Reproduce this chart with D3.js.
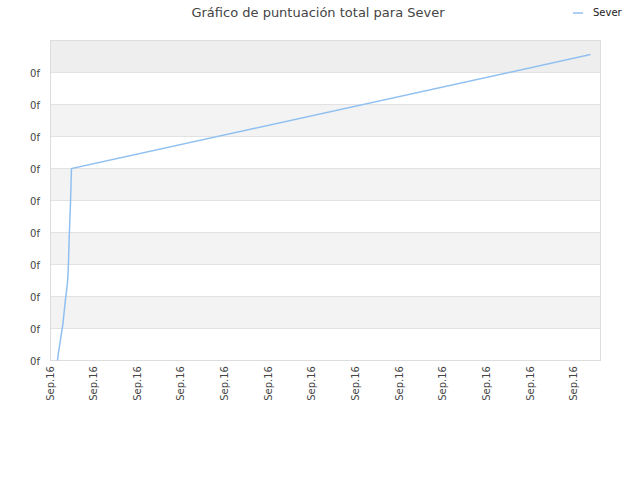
<!DOCTYPE html>
<html><head><meta charset="utf-8">
<script src="https://cdn.jsdelivr.net/npm/d3@7"></script>
<style>body{margin:0;background:#fff}text{font-family:"DejaVu Sans",sans-serif}</style>
</head><body><div id="chart"></div>
<script>
const xTicks = d3.range(13)
const xTickLabels = xTicks.map(() => 'Sep.16')
const yTicks = d3.range(10)
const yTickLabels = yTicks.map(() => '0f')
const seriesX = [0.16, 0.18, 0.28, 0.34, 0.39, 0.41, 0.43, 0.46, 0.48, 12.37]
const seriesY = [0, 0.22, 1.1, 1.87, 2.44, 2.97, 3.9, 5, 6, 9.56]

const svg = d3.select('#chart').append('svg').attr('width', 640).attr('height', 480)
const x = d3.scaleLinear().domain([0, 12.6]).range([50.5, 600.5])
const y = d3.scaleLinear().domain([0, 10]).range([360.5, 40.5])

// bands
svg.append('rect').attr('x', x(0)).attr('y', y(10)).attr('width', x(12.6) - x(0)).attr('height', y(9) - y(10)).attr('fill', '#eeeeee')
svg.selectAll('.band').data(yTicks.filter(d => d % 2 === 1 && d < 9)).join('rect')
  .attr('x', x(0)).attr('y', d => y(d + 1)).attr('width', x(12.6) - x(0)).attr('height', y(0) - y(1)).attr('fill', '#f3f3f3')
svg.selectAll('.grid').data(d3.range(1, 10)).join('line')
  .attr('x1', x(0)).attr('x2', x(12.6)).attr('y1', d => y(d)).attr('y2', d => y(d)).attr('stroke', '#e2e2e2')
svg.append('rect').attr('x', x(0)).attr('y', y(10)).attr('width', x(12.6) - x(0)).attr('height', y(0) - y(10))
  .attr('fill', 'none').attr('stroke', '#dddddd')

svg.selectAll('.yl').data(yTicks).join('text')
  .attr('x', 40).attr('y', d => y(d) + 4).attr('text-anchor', 'end').attr('font-size', 10).attr('fill', '#444')
  .text((d, i) => yTickLabels[i])
svg.selectAll('.xl').data(xTicks).join('text')
  .attr('transform', d => `translate(${x(d) + 3},366) rotate(-90)`).attr('text-anchor', 'end')
  .attr('font-size', 10).attr('fill', '#444').text((d, i) => xTickLabels[i])

const line = d3.line().x(d => x(d[0])).y(d => y(d[1]))
svg.append('path').datum(d3.zip(seriesX, seriesY)).attr('d', line)
  .attr('fill', 'none').attr('stroke', '#90c0f0').attr('stroke-width', 1.5)

svg.append('text').attr('x', 318).attr('y', 17).attr('text-anchor', 'middle').attr('font-size', 13)
  .attr('fill', '#444').text('Gráfico de puntuación total para Sever')
svg.append('line').attr('x1', 573).attr('x2', 583).attr('y1', 13).attr('y2', 13).attr('stroke', '#90c0f0').attr('stroke-width', 1.5)
svg.append('text').attr('x', 593).attr('y', 16).attr('font-size', 10).attr('fill', '#222').text('Sever')
</script></body></html>
